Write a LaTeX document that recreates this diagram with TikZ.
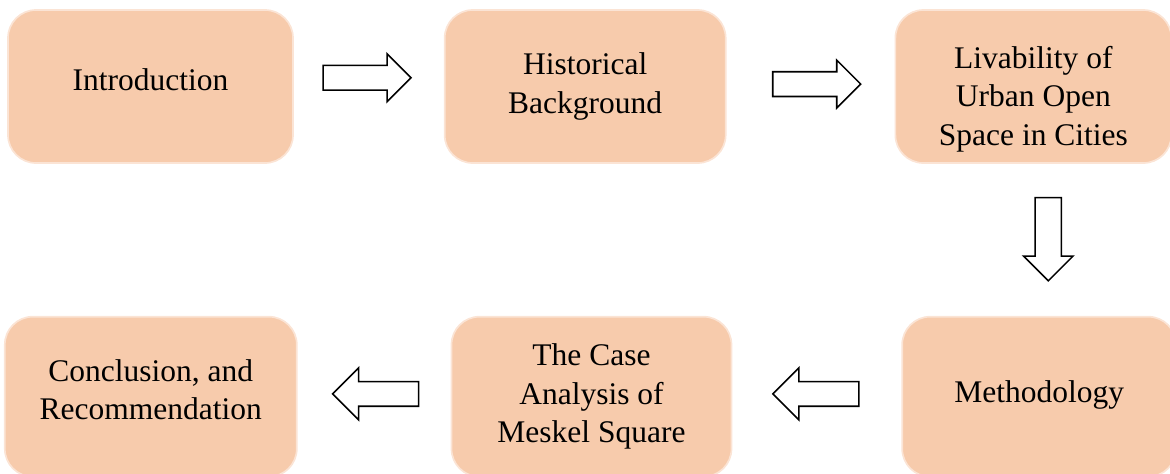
\documentclass[tikz,border=0pt]{standalone}
\usepackage{fontspec}
\setmainfont{Liberation Serif}
\usepackage{xcolor}
\usetikzlibrary{positioning, shapes.arrows, calc}
\definecolor{peach}{RGB}{247, 203, 172}
\definecolor{peachlt}{RGB}{251, 228, 213}

\begin{document}
\begin{tikzpicture}[
    stage/.style={rectangle, rounded corners=0.7cm, draw=peachlt, fill=peach, line width=1.2pt, minimum height=#1, align=center, font=\fontsize{22.4}{27.5}\selectfont, text=black},
    stage/.default=3.825cm,
    flow/.style={single arrow, draw=black, fill=white, line width=1.1pt, inner sep=0.29cm, minimum width=0pt, single arrow head extend=0.29cm, minimum height=2.2cm, shape border rotate=#1},
    flow/.default=0
  ]

  \useasboundingbox (0,0) rectangle (29.25,-11.825);
  \clip (0,0) rectangle (29.25,-11.825);

  % Top row
  \node[stage, minimum width=7.125cm, text depth=10pt] (intro) at (3.7625,-2.1625) {Introduction};
  \node[stage, minimum width=7.025cm, right=3.75cm of intro] (hist) {Historical\\Background};
  \node[stage, minimum width=6.9cm, right=4.2cm of hist, text height=89pt, text depth=5pt] (liv) {Livability of\\Urban Open\\Space in Cities};

  % Bottom row
  \node[stage=4cm, minimum width=6.85cm, anchor=north east, text depth=8pt] (meth) at ($(liv.south east)+(0.12,-3.8)$) {Methodology};
  \node[stage=4cm, minimum width=7cm, left=4.225cm of meth] (case) {The Case\\Analysis of\\Meskel Square};
  \node[stage=4cm, minimum width=7.3cm, left=3.825cm of case, text depth=10pt] (concl) {Conclusion, and\\Recommendation};

  % Block arrows
  \node[flow] (a1) at ($(intro.east)!0.5!(hist.west)+(-0.2,0.22)$) {};
  \node[flow] (a2) at ($(hist.east)!0.5!(liv.west)+(0,0.06)$) {};
  \node[flow=270, minimum height=2.08cm, inner sep=0.31cm] (a3) at ($(liv.south)!0.5!(meth.north)+(0.3,0.18)$) {};
  \node[flow=180, minimum height=2.15cm, single arrow head extend=0.34cm] (a4) at ($(meth.west)!0.5!(case.east)+(0.13,0.07)$) {};
  \node[flow=180, minimum height=2.15cm, single arrow head extend=0.34cm] (a5) at ($(case.west)!0.5!(concl.east)+(0.19,0.07)$) {};

\end{tikzpicture}
\end{document}
